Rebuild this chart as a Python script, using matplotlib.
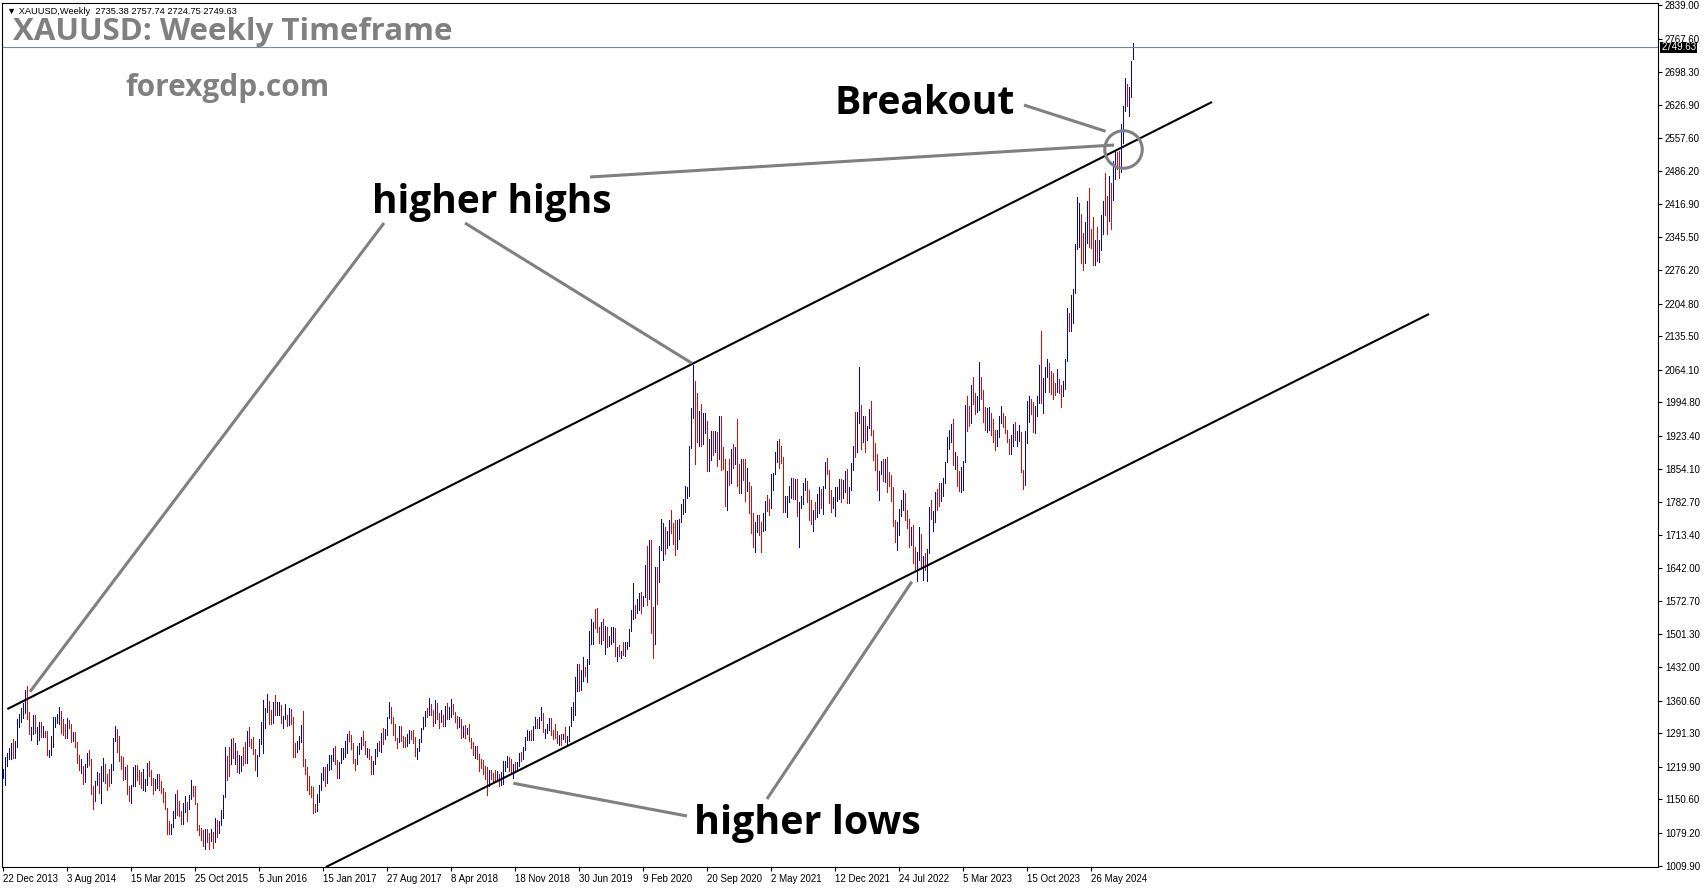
import numpy as np
import matplotlib
matplotlib.use("Agg")
import matplotlib.pyplot as plt

# weekly XAUUSD bars, first week starts 22 Dec 2013 (open of that week = 1203)
first_open = 1203
week_high = [
    1216, 1240, 1250, 1259, 1271, 1280, 1274, 1322, 1332, 1345, 1355, 1384, 1392, 1337, 1305, 1330, 1331, 1305, 1315, 1315, 1306, 1296, 1296, 1256, 1285, 1325, 1326, 1332, 1346, 1338, 1322, 1311, 1324, 1320, 1310, 1293, 1294, 1272, 1245, 1236, 1222, 1226, 1250, 1255, 1237, 1178, 1190, 1208, 1207, 1221, 1238, 1225, 1205, 1215,
    1225, 1282, 1307, 1300, 1286, 1242, 1240, 1220, 1223, 1178, 1182, 1220, 1224, 1224, 1214, 1209, 1215, 1194, 1227, 1232, 1212, 1196, 1193, 1205, 1205, 1190, 1174, 1166, 1132, 1105, 1098, 1125, 1162, 1170, 1147, 1126, 1142, 1157, 1146, 1160, 1191, 1178, 1180, 1142, 1097, 1090, 1085, 1088, 1088, 1080, 1088, 1082,
    1111, 1107, 1105, 1128, 1160, 1263, 1242, 1261, 1280, 1282, 1271, 1253, 1244, 1243, 1262, 1272, 1297, 1304, 1280, 1284, 1258, 1244, 1278, 1315, 1362, 1345, 1375, 1360, 1340, 1358, 1372, 1357, 1357, 1351, 1328, 1353, 1330, 1344, 1342, 1326, 1270, 1274, 1285, 1308, 1338, 1237, 1220, 1200, 1180, 1177, 1140, 1163,
    1181, 1207, 1220, 1220, 1226, 1244, 1245, 1259, 1264, 1235, 1231, 1260, 1260, 1274, 1289, 1295, 1287, 1270, 1237, 1264, 1270, 1283, 1296, 1275, 1260, 1258, 1243, 1233, 1257, 1270, 1274, 1292, 1302, 1300, 1326, 1357, 1348, 1325, 1310, 1281, 1306, 1306, 1285, 1283, 1290, 1298, 1297, 1299, 1283, 1260, 1278, 1303,
    1326, 1339, 1345, 1366, 1354, 1340, 1361, 1356, 1335, 1341, 1330, 1350, 1356, 1347, 1365, 1353, 1336, 1328, 1326, 1321, 1307, 1308, 1303, 1310, 1282, 1272, 1265, 1265, 1248, 1236, 1235, 1222, 1219, 1214, 1214, 1207, 1214, 1211, 1205, 1209, 1233, 1233, 1243, 1240, 1237, 1225, 1230, 1230, 1250, 1252, 1263, 1283, 1298,
    1297, 1298, 1306, 1326, 1321, 1326, 1346, 1335, 1300, 1311, 1324, 1323, 1298, 1310, 1295, 1288, 1290, 1290, 1304, 1286, 1306, 1348, 1358, 1411, 1439, 1438, 1426, 1453, 1433, 1449, 1509, 1535, 1527, 1555, 1557, 1517, 1527, 1535, 1519, 1517, 1499, 1518, 1517, 1514, 1475, 1479, 1466, 1485, 1486, 1485, 1513, 1553,
    1611, 1564, 1576, 1590, 1592, 1584, 1649, 1689, 1703, 1703, 1560, 1644, 1645, 1690, 1747, 1738, 1730, 1722, 1745, 1765, 1739, 1745, 1745, 1746, 1779, 1789, 1818, 1815, 1903, 1983, 2075, 2040, 2015, 1976, 1992, 1973, 1973, 1955, 1916, 1933, 1933, 1933, 1932, 1965, 1965, 1900, 1875, 1848, 1875, 1896, 1906, 1900,
    1959, 1863, 1875, 1875, 1875, 1855, 1825, 1816, 1760, 1740, 1755, 1755, 1740, 1759, 1785, 1797, 1790, 1843, 1845, 1890, 1913, 1916, 1903, 1879, 1795, 1795, 1818, 1834, 1834, 1832, 1832, 1783, 1795, 1823, 1834, 1827, 1808, 1787, 1765, 1782, 1801, 1814, 1810, 1818, 1868, 1877, 1850, 1808, 1793, 1815, 1815, 1831,
    1831, 1830, 1848, 1853, 1815, 1865, 1902, 1974, 1975, 2070, 1990, 1966, 1966, 1945, 1980, 1998, 1936, 1909, 1884, 1849, 1870, 1874, 1875, 1879, 1847, 1841, 1814, 1745, 1740, 1767, 1788, 1808, 1802, 1765, 1746, 1729, 1735, 1688, 1676, 1729, 1714, 1668, 1675, 1682, 1773, 1787, 1764, 1804, 1810, 1824, 1823, 1833,
    1869, 1921, 1937, 1949, 1959, 1890, 1880, 1848, 1858, 1870, 1989, 2009, 1987, 2032, 2048, 2015, 2009, 2081, 2048, 2022, 1985, 1983, 1985, 1972, 1960, 1935, 1935, 1965, 1987, 1973, 1965, 1937, 1917, 1925, 1949, 1953, 1934, 1947, 1931, 1850, 1934, 1997, 2009, 2003, 1995, 1987, 2008, 2075, 2146, 2047, 2070, 2088,
    2078, 2062, 2058, 2036, 2065, 2044, 2032, 2041, 2088, 2195, 2185, 2223, 2236, 2331, 2431, 2418, 2395, 2354, 2378, 2422, 2450, 2364, 2388, 2339, 2368, 2340, 2393, 2424, 2483, 2433, 2477, 2461, 2509, 2531, 2528, 2529, 2586, 2625, 2685, 2672, 2666, 2721, 2758,
]
week_low = [
    1195, 1182, 1222, 1237, 1236, 1238, 1239, 1261, 1305, 1315, 1323, 1335, 1322, 1290, 1277, 1290, 1292, 1268, 1277, 1283, 1283, 1283, 1245, 1240, 1246, 1262, 1305, 1312, 1311, 1292, 1288, 1282, 1282, 1302, 1273, 1274, 1262, 1228, 1214, 1207, 1183, 1187, 1220, 1224, 1161, 1131, 1147, 1181, 1165, 1142, 1190, 1185, 1170, 1178,
    1185, 1214, 1275, 1251, 1232, 1216, 1192, 1194, 1163, 1147, 1142, 1178, 1178, 1192, 1183, 1175, 1170, 1168, 1182, 1200, 1182, 1162, 1170, 1175, 1170, 1164, 1146, 1130, 1077, 1077, 1077, 1092, 1110, 1117, 1115, 1098, 1098, 1124, 1105, 1130, 1151, 1157, 1140, 1085, 1075, 1064, 1052, 1046, 1061, 1046, 1063, 1047,
    1061, 1071, 1079, 1096, 1111, 1156, 1191, 1200, 1226, 1239, 1225, 1208, 1206, 1211, 1224, 1227, 1229, 1265, 1260, 1248, 1212, 1200, 1242, 1269, 1250, 1303, 1336, 1310, 1310, 1314, 1331, 1329, 1331, 1312, 1302, 1321, 1306, 1308, 1311, 1241, 1241, 1251, 1258, 1272, 1221, 1204, 1171, 1161, 1156, 1122, 1123, 1125,
    1146, 1171, 1192, 1180, 1186, 1213, 1216, 1232, 1225, 1195, 1195, 1228, 1237, 1241, 1249, 1275, 1258, 1227, 1214, 1226, 1247, 1258, 1266, 1248, 1241, 1236, 1204, 1205, 1225, 1243, 1254, 1252, 1268, 1280, 1288, 1324, 1314, 1288, 1276, 1260, 1272, 1275, 1263, 1262, 1264, 1271, 1279, 1271, 1243, 1236, 1254, 1272,
    1301, 1306, 1325, 1331, 1329, 1306, 1313, 1321, 1303, 1316, 1307, 1306, 1321, 1321, 1326, 1333, 1316, 1302, 1304, 1282, 1283, 1281, 1290, 1275, 1260, 1245, 1239, 1237, 1210, 1218, 1204, 1193, 1160, 1180, 1194, 1187, 1191, 1191, 1180, 1182, 1183, 1210, 1220, 1211, 1206, 1196, 1212, 1211, 1222, 1233, 1236, 1255, 1276,
    1277, 1276, 1276, 1302, 1302, 1302, 1320, 1293, 1281, 1291, 1298, 1288, 1280, 1281, 1270, 1266, 1267, 1279, 1273, 1268, 1275, 1306, 1319, 1331, 1381, 1381, 1384, 1402, 1412, 1400, 1438, 1480, 1480, 1516, 1506, 1484, 1482, 1490, 1459, 1474, 1476, 1480, 1485, 1456, 1445, 1456, 1451, 1458, 1456, 1471, 1477, 1508,
    1535, 1536, 1546, 1554, 1547, 1561, 1581, 1564, 1576, 1504, 1451, 1482, 1566, 1613, 1680, 1659, 1673, 1685, 1692, 1718, 1693, 1670, 1684, 1705, 1741, 1757, 1762, 1792, 1796, 1897, 1962, 1863, 1911, 1903, 1901, 1906, 1930, 1848, 1848, 1873, 1882, 1890, 1859, 1875, 1850, 1853, 1775, 1765, 1820, 1823, 1855, 1863,
    1817, 1803, 1802, 1830, 1785, 1807, 1760, 1717, 1687, 1677, 1719, 1712, 1677, 1721, 1723, 1763, 1756, 1770, 1808, 1843, 1869, 1855, 1866, 1761, 1762, 1750, 1783, 1792, 1789, 1790, 1753, 1687, 1770, 1778, 1808, 1782, 1745, 1737, 1721, 1746, 1750, 1760, 1770, 1758, 1812, 1843, 1780, 1762, 1770, 1753, 1785, 1790,
    1782, 1792, 1805, 1780, 1780, 1808, 1850, 1878, 1889, 1950, 1895, 1910, 1890, 1915, 1940, 1926, 1872, 1850, 1808, 1787, 1842, 1828, 1825, 1805, 1816, 1785, 1732, 1697, 1680, 1712, 1754, 1765, 1745, 1727, 1688, 1691, 1654, 1640, 1614, 1659, 1642, 1618, 1638, 1616, 1674, 1747, 1721, 1740, 1766, 1774, 1784, 1796,
    1823, 1867, 1896, 1911, 1861, 1853, 1818, 1806, 1805, 1809, 1867, 1934, 1944, 1950, 1992, 1969, 1974, 1978, 2003, 1952, 1937, 1932, 1935, 1925, 1910, 1893, 1903, 1922, 1950, 1942, 1929, 1910, 1885, 1884, 1903, 1914, 1901, 1913, 1846, 1810, 1820, 1908, 1954, 1969, 1932, 1930, 1965, 1993, 1993, 1973, 2016, 2048,
    2016, 2013, 2001, 2010, 2016, 2014, 1984, 2009, 2024, 2083, 2146, 2146, 2163, 2228, 2320, 2325, 2292, 2277, 2291, 2333, 2325, 2323, 2287, 2286, 2296, 2293, 2319, 2353, 2394, 2353, 2381, 2364, 2425, 2470, 2492, 2471, 2485, 2546, 2614, 2624, 2603, 2645, 2725,
]
week_close = [
    1213, 1238, 1247, 1252, 1264, 1240, 1262, 1319, 1326, 1327, 1339, 1380, 1336, 1294, 1303, 1318, 1294, 1300, 1302, 1291, 1294, 1292, 1250, 1252, 1275, 1317, 1318, 1320, 1337, 1310, 1304, 1294, 1310, 1305, 1280, 1287, 1267, 1230, 1216, 1217, 1193, 1222, 1238, 1231, 1172, 1169, 1190, 1198, 1168, 1204, 1222, 1195, 1194, 1186,
    1216, 1277, 1293, 1283, 1234, 1227, 1205, 1213, 1166, 1152, 1182, 1199, 1219, 1206, 1204, 1177, 1179, 1189, 1225, 1205, 1190, 1168, 1180, 1201, 1173, 1168, 1157, 1131, 1096, 1094, 1095, 1113, 1160, 1134, 1121, 1104, 1138, 1145, 1137, 1155, 1177, 1163, 1142, 1088, 1081, 1076, 1057, 1086, 1075, 1065, 1075, 1061,
    1104, 1089, 1098, 1117, 1158, 1239, 1227, 1222, 1259, 1250, 1255, 1217, 1221, 1240, 1235, 1231, 1293, 1289, 1272, 1252, 1216, 1243, 1275, 1298, 1316, 1339, 1366, 1327, 1323, 1351, 1335, 1336, 1341, 1320, 1326, 1328, 1310, 1339, 1316, 1257, 1251, 1266, 1276, 1304, 1226, 1208, 1183, 1178, 1160, 1134, 1133, 1152,
    1173, 1197, 1204, 1190, 1220, 1234, 1236, 1257, 1234, 1201, 1229, 1243, 1249, 1253, 1285, 1284, 1268, 1228, 1227, 1254, 1267, 1280, 1271, 1254, 1256, 1241, 1212, 1227, 1254, 1268, 1258, 1290, 1285, 1291, 1325, 1347, 1320, 1297, 1280, 1275, 1304, 1280, 1272, 1268, 1275, 1294, 1288, 1280, 1248, 1256, 1275, 1302,
    1320, 1337, 1332, 1351, 1333, 1315, 1347, 1329, 1322, 1323, 1313, 1348, 1324, 1332, 1343, 1335, 1323, 1314, 1319, 1291, 1302, 1293, 1299, 1278, 1269, 1252, 1255, 1241, 1231, 1223, 1213, 1211, 1184, 1206, 1199, 1196, 1194, 1199, 1191, 1203, 1217, 1227, 1235, 1233, 1209, 1222, 1221, 1223, 1248, 1238, 1257, 1280, 1286,
    1288, 1282, 1304, 1318, 1315, 1322, 1328, 1294, 1298, 1302, 1314, 1292, 1291, 1290, 1275, 1285, 1280, 1285, 1276, 1284, 1305, 1341, 1342, 1398, 1409, 1400, 1415, 1426, 1419, 1441, 1497, 1514, 1526, 1520, 1507, 1488, 1517, 1497, 1505, 1489, 1490, 1504, 1514, 1459, 1468, 1462, 1463, 1460, 1476, 1478, 1511, 1552,
    1557, 1556, 1571, 1589, 1570, 1584, 1643, 1585, 1673, 1529, 1498, 1626, 1620, 1683, 1684, 1728, 1701, 1702, 1743, 1735, 1730, 1684, 1730, 1743, 1771, 1774, 1799, 1809, 1902, 1976, 2035, 1945, 1940, 1964, 1934, 1940, 1950, 1861, 1900, 1930, 1899, 1902, 1879, 1951, 1889, 1871, 1788, 1839, 1838, 1881, 1877, 1898,
    1850, 1827, 1855, 1847, 1813, 1823, 1784, 1733, 1700, 1727, 1745, 1732, 1729, 1744, 1777, 1776, 1768, 1831, 1838, 1880, 1903, 1892, 1877, 1764, 1781, 1787, 1808, 1812, 1802, 1814, 1763, 1780, 1781, 1818, 1827, 1787, 1754, 1750, 1761, 1757, 1768, 1793, 1783, 1818, 1864, 1845, 1793, 1783, 1784, 1804, 1810, 1829,
    1797, 1817, 1835, 1791, 1807, 1859, 1898, 1889, 1966, 1988, 1921, 1958, 1925, 1945, 1974, 1932, 1897, 1883, 1811, 1846, 1853, 1850, 1871, 1840, 1826, 1811, 1742, 1703, 1727, 1766, 1775, 1802, 1747, 1738, 1712, 1717, 1675, 1644, 1661, 1695, 1644, 1657, 1645, 1681, 1770, 1751, 1754, 1797, 1796, 1793, 1798, 1824,
    1865, 1920, 1926, 1928, 1865, 1866, 1842, 1811, 1856, 1868, 1988, 1977, 1969, 2008, 2004, 1983, 1990, 2017, 2011, 1977, 1946, 1948, 1961, 1958, 1921, 1919, 1925, 1955, 1962, 1959, 1942, 1913, 1889, 1914, 1940, 1919, 1924, 1925, 1848, 1832, 1932, 1981, 2006, 1993, 1940, 1981, 2001, 2072, 2004, 2019, 2053, 2062,
    2049, 2048, 2029, 2018, 2039, 2024, 2013, 2035, 2083, 2179, 2155, 2165, 2233, 2329, 2344, 2392, 2337, 2301, 2360, 2415, 2334, 2327, 2293, 2333, 2321, 2326, 2391, 2411, 2400, 2387, 2442, 2431, 2507, 2512, 2503, 2497, 2577, 2621, 2657, 2653, 2656, 2720, 2750,
]

date_labels = ["22 Dec 2013", "3 Aug 2014", "15 Mar 2015", "25 Oct 2015", "5 Jun 2016",
               "15 Jan 2017", "27 Aug 2017", "8 Apr 2018", "18 Nov 2018", "30 Jun 2019",
               "9 Feb 2020", "20 Sep 2020", "2 May 2021", "12 Dec 2021", "24 Jul 2022",
               "5 Mar 2023", "15 Oct 2023", "26 May 2024"]
price_labels = [1009.90, 1079.20, 1150.60, 1219.90, 1291.30, 1360.60, 1432.00, 1501.30,
                1572.70, 1642.00, 1713.40, 1782.70, 1854.10, 1923.40, 1994.80, 2064.10,
                2135.50, 2204.80, 2276.20, 2345.50, 2416.90, 2486.20, 2557.60, 2626.90,
                2698.30, 2767.60, 2839.00]
last_bar = (2735.38, 2757.74, 2724.75, 2749.63)

# channel lines and notes, anchored at (week number, price)
upper_line = [(2.2, 1342.7), (604.5, 2633.5)]
lower_line = [(161.5, 1006.8), (713.0, 2182.7)]
note_lines = [
    [(190.5, 2376.2), (13.5, 1379.5)],
    [(231.0, 2376.2), (344.5, 2077.9)],
    [(293.5, 2474.0), (555.5, 2542.0)],
    [(510.5, 2627.0), (551.3, 2571.2)],
    [(382.0, 1151.4), (454.4, 1613.5)],
    [(342.0, 1115.2), (255.2, 1184.8)],
]
breakout_point = (560.2, 2533.0)

W, H = 1705, 888
fig = plt.figure(figsize=(W / 100, H / 100), dpi=100)
ax = fig.add_axes([2 / W, 21 / H, 1656 / W, 864 / H])

n = len(week_close)
x = np.arange(n)
opens = np.r_[first_open, week_close[:-1]]
cols = np.where(np.array(week_close) >= opens, "#0000cc", "#e60000")
ax.vlines(x, week_low, week_high, colors=cols, linewidth=0.72, antialiased=False)

ax.axhline(last_bar[3], color="#778899", lw=0.8)

for a, b in [upper_line, lower_line]:
    ax.plot([a[0], b[0]], [a[1], b[1]], color="black", lw=1.5, solid_capstyle="butt")
for a, b in note_lines:
    ax.plot([a[0], b[0]], [a[1], b[1]], color="#808080", lw=2.2, solid_capstyle="butt")
ax.plot(*breakout_point, marker="o", ms=27, mfc="none", mec="#808080", mew=2.2)

ax.set_xlim(-0.5, 827.5)
ax.set_ylim(1006.8, 2844)

ax.set_yticks(price_labels)
ax.set_yticklabels(["%.2f" % v for v in price_labels])
ax.yaxis.tick_right()
ax.tick_params(axis="y", direction="out", length=3, width=0.8, pad=2, labelsize=7)
ax.set_xticks(np.arange(0, 32 * len(date_labels), 32))
ax.set_xticklabels(date_labels, ha="left")
ax.tick_params(axis="x", direction="out", length=3, width=0.8, pad=2, labelsize=7)
for lab in ax.get_xticklabels() + ax.get_yticklabels():
    lab.set_family(["Liberation Sans", "DejaVu Sans"])
for s in ax.spines.values():
    s.set_linewidth(0.8)

# price tag of the last close
ax.text(1.002, last_bar[3], "%.2f" % last_bar[3], transform=ax.get_yaxis_transform(),
        ha="left", va="center", fontsize=7, color="white", family=["Liberation Sans", "DejaVu Sans"],
        bbox=dict(facecolor="black", edgecolor="none", pad=0.6))

def px(xp, yp):
    return xp / W, 1 - yp / H

fig.text(*px(7, 11), "\u25bc XAUUSD,Weekly  %.2f %.2f %.2f %.2f" % last_bar, fontsize=6.7,
         va="center", family=["Liberation Sans", "DejaVu Sans"])
fig.text(*px(13, 40), "XAUUSD: Weekly Timeframe", fontsize=22.5, fontweight="bold",
         color="#808080", family="Open Sans", va="baseline")
fig.text(*px(125, 96), "forexgdp.com", fontsize=21.5, fontweight="bold",
         color="#808080", family="Open Sans", va="baseline")
fig.text(*px(372, 213), "higher highs", fontsize=28, fontweight="bold",
         family="Open Sans", va="baseline")
fig.text(*px(835, 114), "Breakout", fontsize=28.2, fontweight="bold",
         family="Open Sans", va="baseline")
fig.text(*px(694, 834), "higher lows", fontsize=28.4, fontweight="bold",
         family="Open Sans", va="baseline")

fig.savefig("out.png", dpi=100)
